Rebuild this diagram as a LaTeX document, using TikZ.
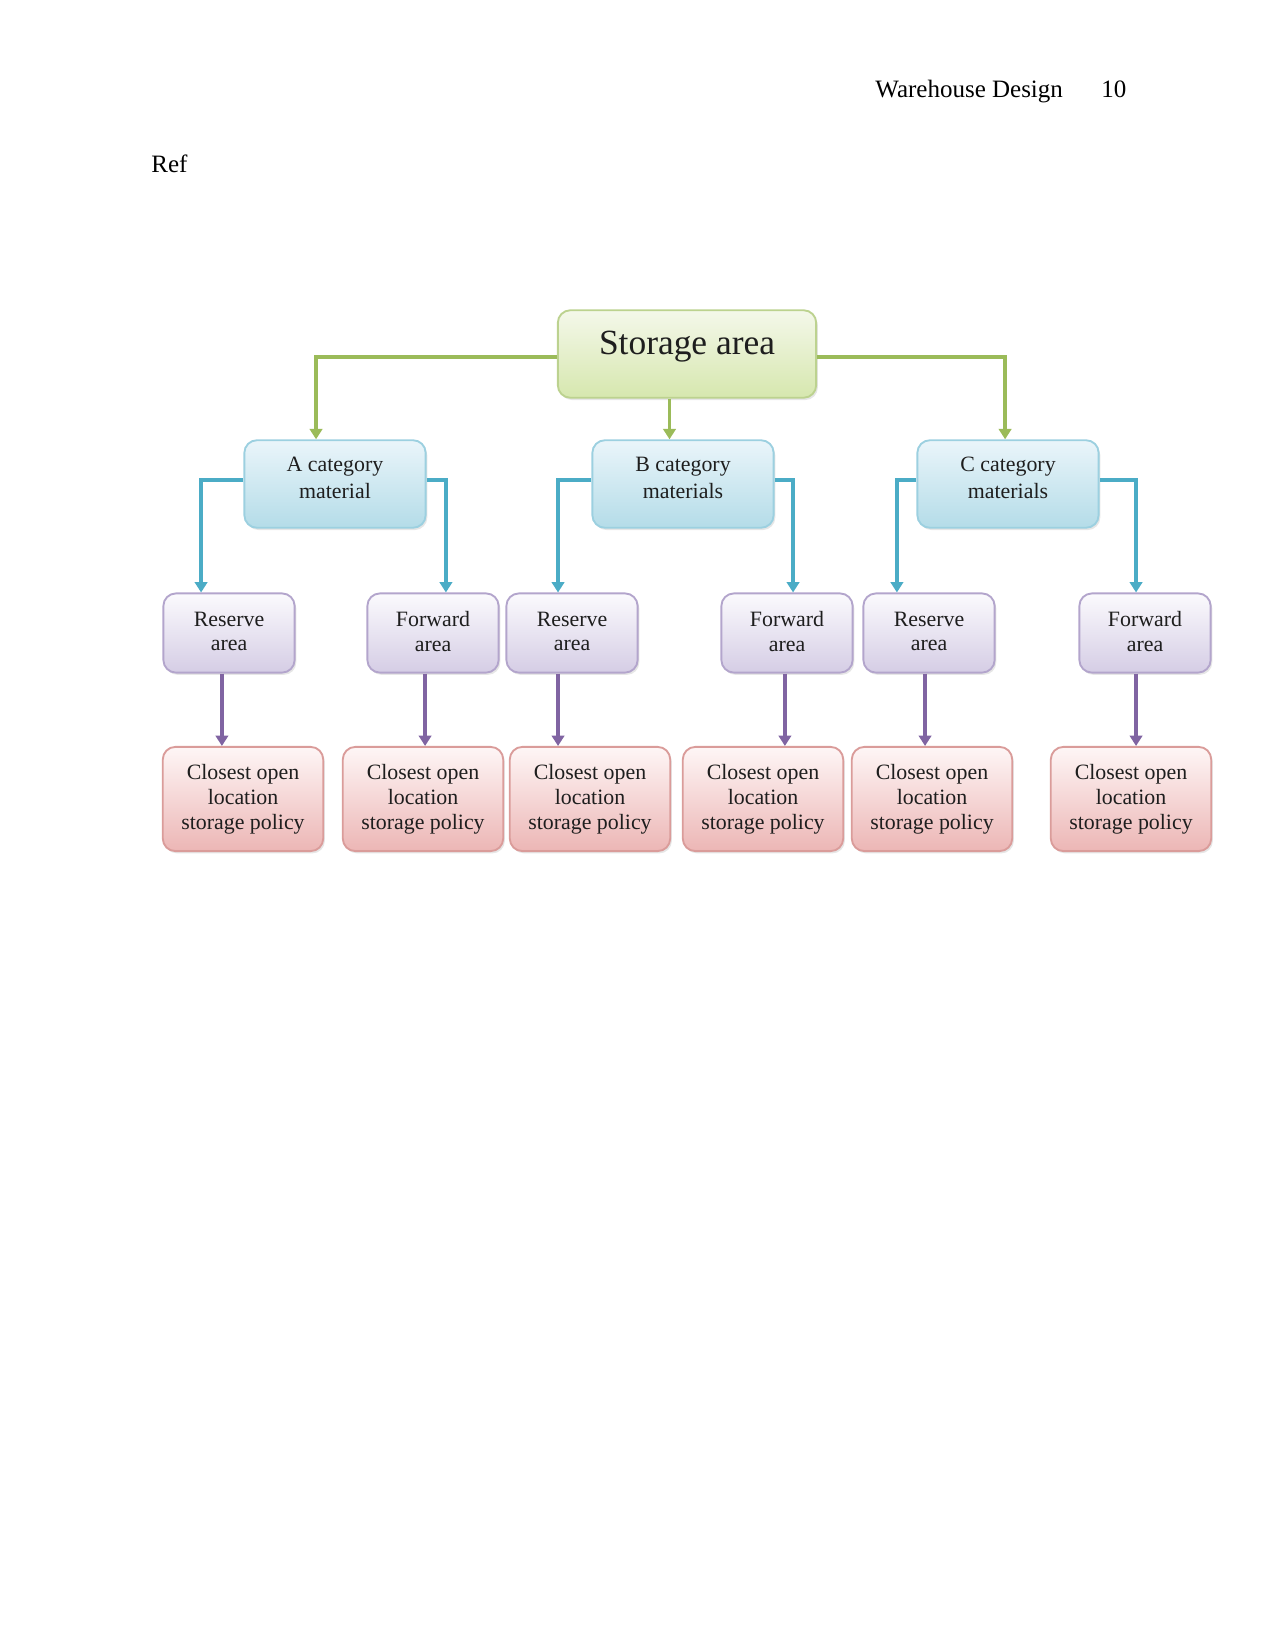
\documentclass[tikz,border=0pt]{standalone}
\usepackage{fontspec}
\setmainfont{Liberation Serif}
\usetikzlibrary{arrows.meta, shadows}
\definecolor{olgreen}{HTML}{9BBB59}
\definecolor{grnedge}{HTML}{BCD28F}
\definecolor{grntop}{HTML}{F4F8EA}
\definecolor{grnbot}{HTML}{D6E7AE}
\definecolor{aqua}{HTML}{4BACC6}
\definecolor{aquedge}{HTML}{9CD0E0}
\definecolor{aqutop}{HTML}{EAF5FA}
\definecolor{aqubot}{HTML}{B4DCE8}
\definecolor{violet}{HTML}{8064A2}
\definecolor{vioedge}{HTML}{B3A5CC}
\definecolor{viotop}{HTML}{FBFAFD}
\definecolor{viobot}{HTML}{D5CDE5}
\definecolor{rosedge}{HTML}{DA9C9A}
\definecolor{rostop}{HTML}{FEF6F6}
\definecolor{rosbot}{HTML}{ECB6B5}
\definecolor{inkgray}{HTML}{1E1E1E}

\begin{document}
\begin{tikzpicture}[
  x=0.48pt, y=-0.48pt,
  box/.style={rounded corners=6pt, line width=0.9pt, align=center, inner sep=2pt,
    text=inkgray, drop shadow={opacity=0.2, shadow xshift=0.8pt, shadow yshift=-1.1pt}},
  rootbox/.style={box, draw=grnedge, top color=grntop, bottom color=grnbot,
    minimum width=124pt, minimum height=42pt, text depth=10.7pt,
    font=\fontsize{17}{20}\selectfont},
  catbox/.style={box, draw=aquedge, top color=aqutop, bottom color=aqubot,
    minimum width=87pt, minimum height=42pt, text depth=6pt,
    font=\fontsize{10.5}{12.6}\selectfont},
  areabox/.style={box, draw=vioedge, top color=viotop, bottom color=viobot,
    minimum width=63pt, minimum height=38pt, text depth=1.5pt,
    font=\fontsize{10.5}{11.8}\selectfont},
  polbox/.style={box, draw=rosedge, top color=rostop, bottom color=rosbot,
    minimum width=77pt, minimum height=50pt, font=\fontsize{10.5}{12}\selectfont},
  grnline/.style={draw=olgreen, line width=1.8pt, -{Triangle[length=5pt, width=6pt]}},
  aqline/.style={draw=aqua, line width=1.8pt, -{Triangle[length=5pt, width=6pt]}},
  violine/.style={draw=violet, line width=1.8pt, -{Triangle[length=5pt, width=6pt]}},
  page/.style={font=\fontsize{12}{14}\selectfont, anchor=base west, inner sep=0pt},
]
\useasboundingbox (0,0) rectangle (1275,1651);

% ===== Page text =====
\node[page] (hdr) at (875,98) {Warehouse Design};
\node[page] (pgno) at (1101,98) {10};
\node[page] (ref) at (151,173) {Ref};

% ===== Boxes =====
\node[rootbox] (st) at (687,354) {Storage area};

\node[catbox] (ca) at (335,484) {A category\\material};
\node[catbox] (cb) at (683,484) {B category\\materials};
\node[catbox] (cc) at (1008,484) {C category\\materials};

\node[areabox] (ra) at (229,633) {Reserve\\area};
\node[areabox] (fa) at (433,633) {Forward\\area};
\node[areabox] (rb) at (572,633) {Reserve\\area};
\node[areabox] (fb) at (787,633) {Forward\\area};
\node[areabox] (rc) at (929,633) {Reserve\\area};
\node[areabox] (fc) at (1145,633) {Forward\\area};

\node[polbox] (pa1) at (243,799) {Closest open\\location\\storage policy};
\node[polbox] (pa2) at (423,799) {Closest open\\location\\storage policy};
\node[polbox] (pb1) at (590,799) {Closest open\\location\\storage policy};
\node[polbox] (pb2) at (763,799) {Closest open\\location\\storage policy};
\node[polbox] (pc1) at (932,799) {Closest open\\location\\storage policy};
\node[polbox] (pc2) at (1131,799) {Closest open\\location\\storage policy};

% ===== Storage area to categories =====
\draw[grnline] ([yshift=-1.5pt]st.west) -| ([xshift=-9.1pt]ca.north);
\draw[grnline] ([yshift=-1.5pt]st.east) -| ([xshift=-1.4pt]cc.north);
\coordinate (mid) at ([xshift=-8.4pt]st.south);
\draw[grnline] (mid) -- (mid |- cb.north);

% ===== Categories to areas =====
\draw[aqline] ([yshift=2pt]ca.west) -| ([xshift=-13.4pt]ra.north);
\draw[aqline] ([yshift=2pt]ca.east) -| ([xshift=6.2pt]fa.north);
\draw[aqline] ([yshift=2pt]cb.west) -| ([xshift=-6.7pt]rb.north);
\draw[aqline] ([yshift=2pt]cb.east) -| ([xshift=2.9pt]fb.north);
\draw[aqline] ([yshift=2pt]cc.west) -| ([xshift=-15.4pt]rc.north);
\draw[aqline] ([yshift=2pt]cc.east) -| ([xshift=-4.3pt]fc.north);

% ===== Areas to storage policies =====
\coordinate (ta1) at ([xshift=-3.4pt]ra.south);
\coordinate (ta2) at ([xshift=-3.8pt]fa.south);
\coordinate (tb1) at ([xshift=-6.7pt]rb.south);
\coordinate (tb2) at ([xshift=-1pt]fb.south);
\coordinate (tc1) at ([xshift=-1.9pt]rc.south);
\coordinate (tc2) at ([xshift=-4.3pt]fc.south);
\draw[violine] (ta1) -- (ta1 |- pa1.north);
\draw[violine] (ta2) -- (ta2 |- pa2.north);
\draw[violine] (tb1) -- (tb1 |- pb1.north);
\draw[violine] (tb2) -- (tb2 |- pb2.north);
\draw[violine] (tc1) -- (tc1 |- pc1.north);
\draw[violine] (tc2) -- (tc2 |- pc2.north);

\end{tikzpicture}
\end{document}
